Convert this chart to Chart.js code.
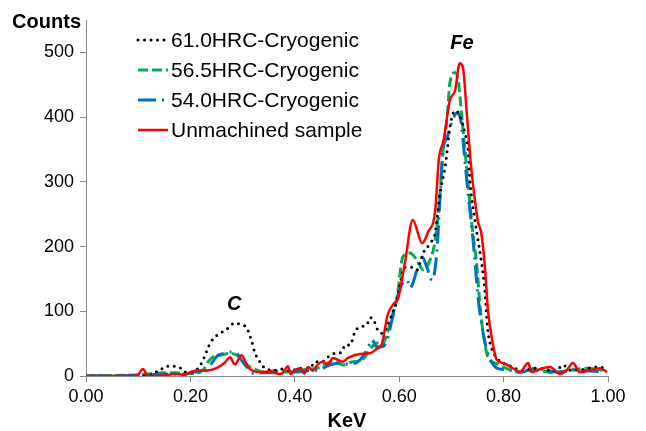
<!DOCTYPE html>
<html lang="en">
<head>
    <meta charset="UTF-8">
    <title>EDS spectrum</title>
    <script src="https://cdn.jsdelivr.net/npm/chart.js"></script>
    <style>
        body { margin: 0; background: #fff; }
    </style>
</head>
<body>
    <canvas id="mainChart" width="646" height="431" style="width:646px;height:431px;"></canvas>

    <script>
        // Series: energy (KeV) and counts
        const labels61 = '61.0HRC-Cryogenic';
        const keV61 = [0, 0.12, 0.13, 0.142, 0.153, 0.167, 0.18, 0.19, 0.2, 0.215, 0.226, 0.238, 0.251, 0.261, 0.272, 0.285, 0.295, 0.308, 0.318, 0.324, 0.333, 0.343, 0.362, 0.375, 0.39, 0.41, 0.429, 0.439, 0.452, 0.465, 0.477, 0.49, 0.496, 0.506, 0.515, 0.525, 0.538, 0.544, 0.55, 0.559, 0.567, 0.584, 0.595, 0.611, 0.625, 0.634, 0.646, 0.659, 0.669, 0.678, 0.688, 0.692, 0.697, 0.707, 0.716, 0.726, 0.732, 0.736, 0.745, 0.751, 0.759, 0.764, 0.769, 0.774, 0.783, 0.789, 0.799, 0.818, 0.831, 0.864, 0.9, 0.914, 0.927, 0.95, 0.979, 0.998];
        const counts61 = [0, 0, 5, 9, 15, 15, 13, 6, 6, 12, 28, 51, 63, 68, 74, 82, 80, 74, 52, 35, 22, 12, 9, 11, 8, 12, 12, 22, 22, 30, 35, 37, 48, 48, 68, 76, 79, 90, 88, 71, 66, 91, 116, 168, 168, 164, 190, 205, 222, 282, 323, 349, 384, 410, 403, 375, 349, 298, 241, 210, 168, 133, 76, 51, 32, 26, 20, 14, 9, 12, 8, 17, 9, 10, 14, 12];

        const labels565 = '56.5HRC-Cryogenic';
        const keV565 = [0, 0.1, 0.13, 0.15, 0.17, 0.19, 0.205, 0.224, 0.234, 0.243, 0.257, 0.276, 0.289, 0.299, 0.314, 0.328, 0.339, 0.36, 0.38, 0.4, 0.42, 0.443, 0.458, 0.473, 0.492, 0.511, 0.525, 0.534, 0.548, 0.557, 0.567, 0.577, 0.586, 0.596, 0.607, 0.621, 0.634, 0.646, 0.659, 0.669, 0.678, 0.684, 0.692, 0.697, 0.707, 0.713, 0.72, 0.726, 0.732, 0.736, 0.741, 0.749, 0.755, 0.761, 0.77, 0.784, 0.799, 0.831, 0.864, 0.895, 0.927, 0.96, 0.99];
        const counts565 = [0, 2, 4, 5, 5, 4, 4, 9, 22, 29, 32, 35, 32, 25, 14, 9, 6, 8, 6, 8, 10, 12, 18, 23, 17, 22, 23, 29, 45, 51, 48, 66, 91, 122, 184, 190, 179, 164, 179, 210, 280, 349, 400, 452, 469, 457, 400, 349, 298, 261, 221, 168, 106, 66, 29, 20, 14, 6, 9, 5, 9, 12, 9];

        const labels540 = '54.0HRC-Cryogenic';
        const keV540 = [0, 0.1, 0.15, 0.19, 0.205, 0.224, 0.238, 0.253, 0.266, 0.28, 0.289, 0.3, 0.314, 0.324, 0.337, 0.36, 0.38, 0.4, 0.42, 0.444, 0.467, 0.487, 0.506, 0.525, 0.54, 0.548, 0.557, 0.567, 0.577, 0.586, 0.592, 0.602, 0.615, 0.621, 0.626, 0.644, 0.653, 0.663, 0.672, 0.678, 0.684, 0.692, 0.701, 0.71, 0.718, 0.724, 0.73, 0.739, 0.745, 0.751, 0.761, 0.768, 0.787, 0.812, 0.831, 0.864, 0.902, 0.94, 0.99];
        const counts540 = [0, 1, 3, 3, 6, 6, 17, 32, 35, 37, 35, 22, 9, 3, 5, 5, 8, 6, 8, 9, 17, 20, 18, 25, 43, 56, 45, 45, 56, 86, 105, 137, 148, 136, 143, 184, 168, 148, 190, 272, 349, 369, 392, 406, 395, 349, 298, 230, 179, 122, 66, 40, 12, 9, 6, 12, 6, 9, 6];

        const labelsRaw = 'Unmachined sample';
        const keVRaw = [0, 0.09, 0.1, 0.109, 0.118, 0.13, 0.15, 0.17, 0.19, 0.2, 0.215, 0.23, 0.25, 0.265, 0.276, 0.285, 0.298, 0.31, 0.32, 0.335, 0.355, 0.37, 0.377, 0.387, 0.392, 0.4, 0.41, 0.418, 0.426, 0.434, 0.444, 0.454, 0.463, 0.473, 0.492, 0.502, 0.525, 0.544, 0.557, 0.567, 0.578, 0.59, 0.598, 0.611, 0.626, 0.644, 0.655, 0.669, 0.676, 0.685, 0.697, 0.707, 0.716, 0.722, 0.73, 0.737, 0.745, 0.751, 0.757, 0.764, 0.77, 0.778, 0.787, 0.799, 0.818, 0.831, 0.847, 0.854, 0.864, 0.889, 0.908, 0.921, 0.933, 0.946, 0.966, 0.985, 0.998];
        const countsRaw = [0, 0, 2, 11, 1, 0, 1, 3, 2, 6, 9, 8, 12, 20, 29, 18, 32, 14, 8, 6, 7, 3, 5, 15, 3, 9, 12, 4, 14, 8, 18, 22, 18, 28, 22, 28, 34, 35, 42, 50, 95, 112, 120, 175, 241, 205, 222, 256, 335, 364, 426, 441, 483, 477, 400, 330, 272, 238, 222, 170, 102, 56, 25, 20, 12, 6, 20, 6, 9, 14, 3, 9, 20, 6, 9, 12, 6];

        const xTicks = [0, 0.2, 0.4, 0.6, 0.8, 1.0];
        const yTicks = [0, 100, 200, 300, 400, 500];

        const font = '"Liberation Sans", Arial, Helvetica, sans-serif';

        function toPoints(xs, ys) {
            return xs.map((x, i) => ({ x: x, y: ys[i] }));
        }

        // legend, axis titles and peak labels
        const extraText = {
            id: 'extraText',
            afterDraw(chart) {
                const ctx = chart.ctx;
                const xs = chart.scales.x;
                const ys = chart.scales.y;
                ctx.save();
                ctx.fillStyle = '#000';

                ctx.font = 'bold 20px ' + font;
                ctx.textAlign = 'right';
                ctx.textBaseline = 'middle';
                ctx.fillText('Counts', 81, 22);

                ctx.textAlign = 'center';
                ctx.fillText('KeV', 347, 421);

                ctx.font = 'italic bold 20px ' + font;
                ctx.fillText('C', xs.getPixelForValue(0.284), ys.getPixelForValue(110));
                ctx.fillText('Fe', xs.getPixelForValue(0.72), ys.getPixelForValue(514));

                // legend
                ctx.font = '21px ' + font;
                ctx.textAlign = 'left';
                chart.data.datasets.forEach((ds, i) => {
                    const y = 40 + i * 30;
                    ctx.save();
                    ctx.strokeStyle = ds.borderColor;
                    ctx.lineWidth = ds.borderWidth;
                    ctx.lineCap = ds.borderCapStyle || 'butt';
                    ctx.setLineDash(ds.borderDash || []);
                    ctx.beginPath();
                    ctx.moveTo(138, y);
                    ctx.lineTo(168, y);
                    ctx.stroke();
                    ctx.restore();
                    ctx.fillText(ds.label, 171, y + 1);
                });
                ctx.restore();
            }
        };

        const ctx = document.getElementById('mainChart').getContext('2d');
        const chart = new Chart(ctx, {
            type: 'line',
            data: {
                datasets: [
                    {
                        label: labels61,
                        data: toPoints(keV61, counts61),
                        borderColor: '#000000',
                        borderWidth: 3,
                        borderDash: [0, 6.5],
                        borderCapStyle: 'round',
                        order: 1
                    },
                    {
                        label: labels565,
                        data: toPoints(keV565, counts565),
                        borderColor: '#00B050',
                        borderWidth: 3,
                        borderDash: [10, 4],
                        order: 3
                    },
                    {
                        label: labels540,
                        data: toPoints(keV540, counts540),
                        borderColor: '#0070C0',
                        borderWidth: 3,
                        borderDash: [18, 6, 2, 6],
                        order: 2
                    },
                    {
                        label: labelsRaw,
                        data: toPoints(keVRaw, countsRaw),
                        borderColor: '#FF0000',
                        borderWidth: 2.5,
                        order: 0
                    }
                ]
            },
            options: {
                responsive: false,
                animation: false,
                devicePixelRatio: 1,
                cubicInterpolationMode: 'monotone',
                elements: { point: { radius: 0 } },
                layout: { padding: { top: 20, right: 38, left: 0, bottom: 0 } },
                plugins: {
                    legend: { display: false },
                    tooltip: { enabled: false }
                },
                scales: {
                    x: {
                        type: 'linear',
                        min: 0,
                        max: 1,
                        afterBuildTicks: s => { s.ticks = xTicks.map(v => ({ value: v })); },
                        afterFit: s => { s.height = 55; },
                        ticks: {
                            callback: v => Number(v).toFixed(2),
                            color: '#000',
                            font: { family: font, size: 18 },
                            padding: 4,
                            maxRotation: 0
                        },
                        grid: { drawOnChartArea: false, tickLength: 6, color: '#888' },
                        border: { color: '#888' }
                    },
                    y: {
                        min: 0,
                        max: 550,
                        afterBuildTicks: s => { s.ticks = yTicks.map(v => ({ value: v })); },
                        afterFit: s => { s.width = 86; },
                        ticks: {
                            color: '#000',
                            font: { family: font, size: 18 },
                            padding: 6
                        },
                        grid: { drawOnChartArea: false, tickLength: 6, color: '#888' },
                        border: { color: '#888' }
                    }
                }
            },
            plugins: [extraText]
        });
    </script>
</body>
</html>
